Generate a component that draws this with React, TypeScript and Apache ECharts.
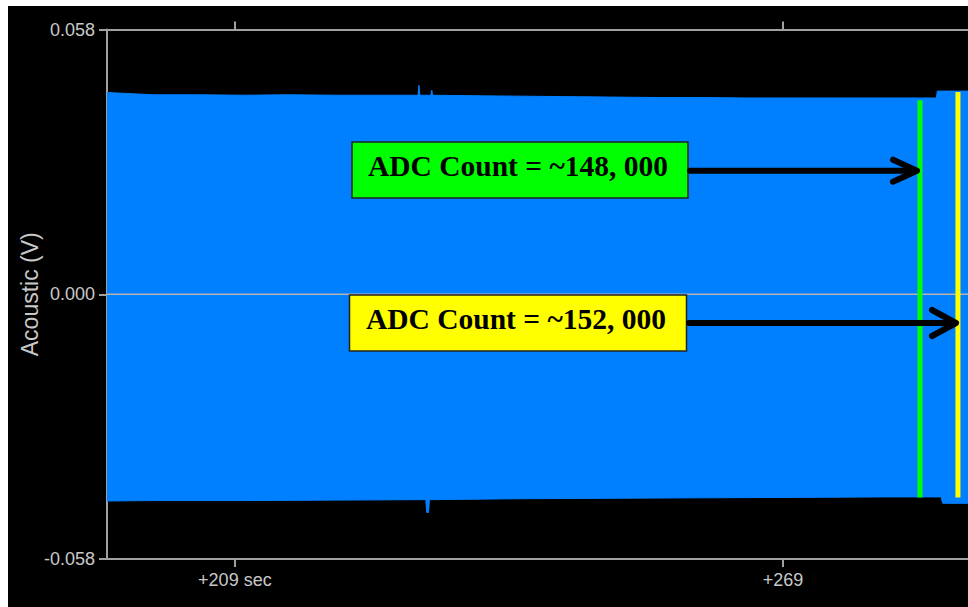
import React, { useEffect, useRef } from "react";
import * as echarts from "echarts";

// Time axis (seconds) and tick labels
const X_MIN = 195.0;
const X_MAX = 289.26;
const xTickValues = [209, 269];
const xTickLabels = ["+209 sec", "+269"];

// Y axis (V)
const Y_MIN = -0.058;
const Y_MAX = 0.058;
const Y_INTERVAL = 0.058;
const yAxisName = "Acoustic (V)";

// Upper envelope of the acoustic signal [time s, volts]
const upperTimes = [195.0, 197, 200, 205, 210, 215, 220, 225, 229.05, 229.15, 229.25, 230.45, 230.55, 230.65, 235, 240, 245, 250, 255, 260, 265, 270, 275, 280, 285.8, 285.9, 289.26];
const upperValues = [0.0442, 0.044, 0.0437, 0.0437, 0.0436, 0.0437, 0.0436, 0.0436, 0.0436, 0.0458, 0.0436, 0.0436, 0.0447, 0.0436, 0.0435, 0.0434, 0.0433, 0.0432, 0.0431, 0.0431, 0.043, 0.043, 0.043, 0.043, 0.043, 0.0445, 0.0445];

// Lower envelope of the acoustic signal
const lowerTimes = [195.0, 200, 210, 220, 229.9, 230.0, 230.2, 230.3, 240, 250, 260, 270, 280, 286.3, 286.5, 289.26];
const lowerValues = [-0.0453, -0.0452, -0.0452, -0.0451, -0.045, -0.0478, -0.0478, -0.045, -0.0448, -0.0447, -0.0446, -0.0445, -0.0444, -0.0444, -0.0458, -0.0458];

// Marker lines (time s, top V, bottom V)
const greenMarker = { t: 284.0, top: 0.0425, bottom: -0.0445 };
const yellowMarker = { t: 288.16, top: 0.0443, bottom: -0.0445 };

// Annotation texts
const greenLabel = "ADC Count = ~148, 000";
const yellowLabel = "ADC Count = ~152, 000";

const BLUE = "#0080ff";
const AXIS_GREY = "#a0a0a0";
const LABEL_GREY = "#c8c8c8";

function zip(a: number[], b: number[]) {
  return a.map((v, i) => [v, b[i]]);
}

export default function App() {
  const ref = useRef<HTMLDivElement>(null);

  useEffect(() => {
    if (!ref.current) return;
    const chart = echarts.init(ref.current, null, { renderer: "svg" });

    const labelFont = { color: LABEL_GREY, fontSize: 18, fontFamily: "Liberation Sans, Arial, sans-serif" };

    const arrow = (x0: number, x1: number, y: number, back: number, half: number) => [
      {
        type: "line",
        z: 100,
        shape: { x1: x0 + 3, y1: y, x2: x1 - 2, y2: y },
        style: { stroke: "#000", lineWidth: 6, lineCap: "round" },
      },
      {
        type: "polyline",
        z: 100,
        shape: { points: [[x1 - back, y - half], [x1, y], [x1 - back, y + half]] },
        style: { stroke: "#000", fill: null, lineWidth: 6, lineCap: "round", lineJoin: "round" },
      },
    ];

    const box = (x: number, y: number, w: number, h: number, fill: string, text: string, tx: number, ty: number) => [
      {
        type: "rect",
        z: 100,
        shape: { x, y, width: w, height: h },
        style: { fill, stroke: "#222", lineWidth: 1.5 },
      },
      {
        type: "text",
        z: 101,
        x: tx,
        y: ty,
        style: {
          text,
          fill: "#000",
          font: "bold 29.5px 'Liberation Serif', 'Times New Roman', serif",
          textAlign: "center",
          textVerticalAlign: "middle",
        },
      },
    ];

    const option: any = {
      animation: false,
      backgroundColor: "#000",
      grid: { left: 99, top: 23.5, right: 0, bottom: 48, outerBoundsMode: "none", containLabel: false },
      xAxis: [
        {
          type: "value",
          position: "bottom",
          min: X_MIN,
          max: X_MAX,
          axisLine: { show: true, onZero: false, lineStyle: { color: AXIS_GREY, width: 2 } },
          axisTick: { show: true, length: 8, customValues: xTickValues, lineStyle: { color: AXIS_GREY, width: 2 } },
          axisLabel: {
            ...labelFont,
            margin: 12,
            customValues: xTickValues,
            formatter: (v: number) => xTickLabels[xTickValues.indexOf(Math.round(v))] ?? "",
          },
          splitLine: { show: false },
        },
        {
          type: "value",
          position: "top",
          min: X_MIN,
          max: X_MAX,
          axisLine: { show: true, onZero: false, lineStyle: { color: AXIS_GREY, width: 2 } },
          axisTick: { show: true, length: 8, customValues: xTickValues, lineStyle: { color: AXIS_GREY, width: 2 } },
          axisLabel: { show: false },
          splitLine: { show: false },
        },
      ],
      yAxis: {
        type: "value",
        min: Y_MIN,
        max: Y_MAX,
        interval: Y_INTERVAL,
        name: yAxisName,
        nameLocation: "middle",
        nameGap: 66,
        nameMoveOverlap: false,
        nameTextStyle: { color: LABEL_GREY, fontSize: 23, fontFamily: "Liberation Sans, Arial, sans-serif" },
        axisLine: { show: true, lineStyle: { color: AXIS_GREY, width: 2 } },
        axisTick: { show: true, length: 8, lineStyle: { color: AXIS_GREY, width: 2 } },
        axisLabel: { ...labelFont, margin: 12, formatter: (v: number) => v.toFixed(3) },
        splitLine: { show: false },
      },
      series: [
        {
          type: "line",
          data: zip(upperTimes, upperValues),
          showSymbol: false,
          lineStyle: { color: BLUE, width: 1 },
          areaStyle: { color: BLUE, opacity: 1 },
          z: 2,
        },
        {
          type: "line",
          data: zip(lowerTimes, lowerValues),
          showSymbol: false,
          lineStyle: { color: BLUE, width: 1 },
          areaStyle: { color: BLUE, opacity: 1 },
          z: 2,
        },
        {
          type: "line",
          data: [[X_MIN, 0], [X_MAX, 0]],
          showSymbol: false,
          lineStyle: { color: "#b4b4b4", width: 1.5 },
          z: 3,
        },
        {
          type: "line",
          data: [[greenMarker.t, greenMarker.top], [greenMarker.t, greenMarker.bottom]],
          showSymbol: false,
          lineStyle: { color: "#00ff00", width: 5 },
          z: 4,
        },
        {
          type: "line",
          data: [[yellowMarker.t, yellowMarker.top], [yellowMarker.t, yellowMarker.bottom]],
          showSymbol: false,
          lineStyle: { color: "#ffff00", width: 5 },
          z: 4,
        },
      ],
      graphic: [
        ...box(344, 136, 336, 56, "#00ff00", greenLabel, 510, 159.5),
        ...box(341.5, 289, 337, 56, "#ffff00", yellowLabel, 508, 313),
        ...arrow(679, 909, 164.7, 24, 11),
        ...arrow(678, 948, 317, 24, 13),
      ],
    };

    chart.setOption(option);
    return () => chart.dispose();
  }, []);

  return (
    <div
      ref={ref}
      style={{ position: "fixed", left: 8, top: 6, width: 960, height: 601, background: "#000" }}
    />
  );
}
